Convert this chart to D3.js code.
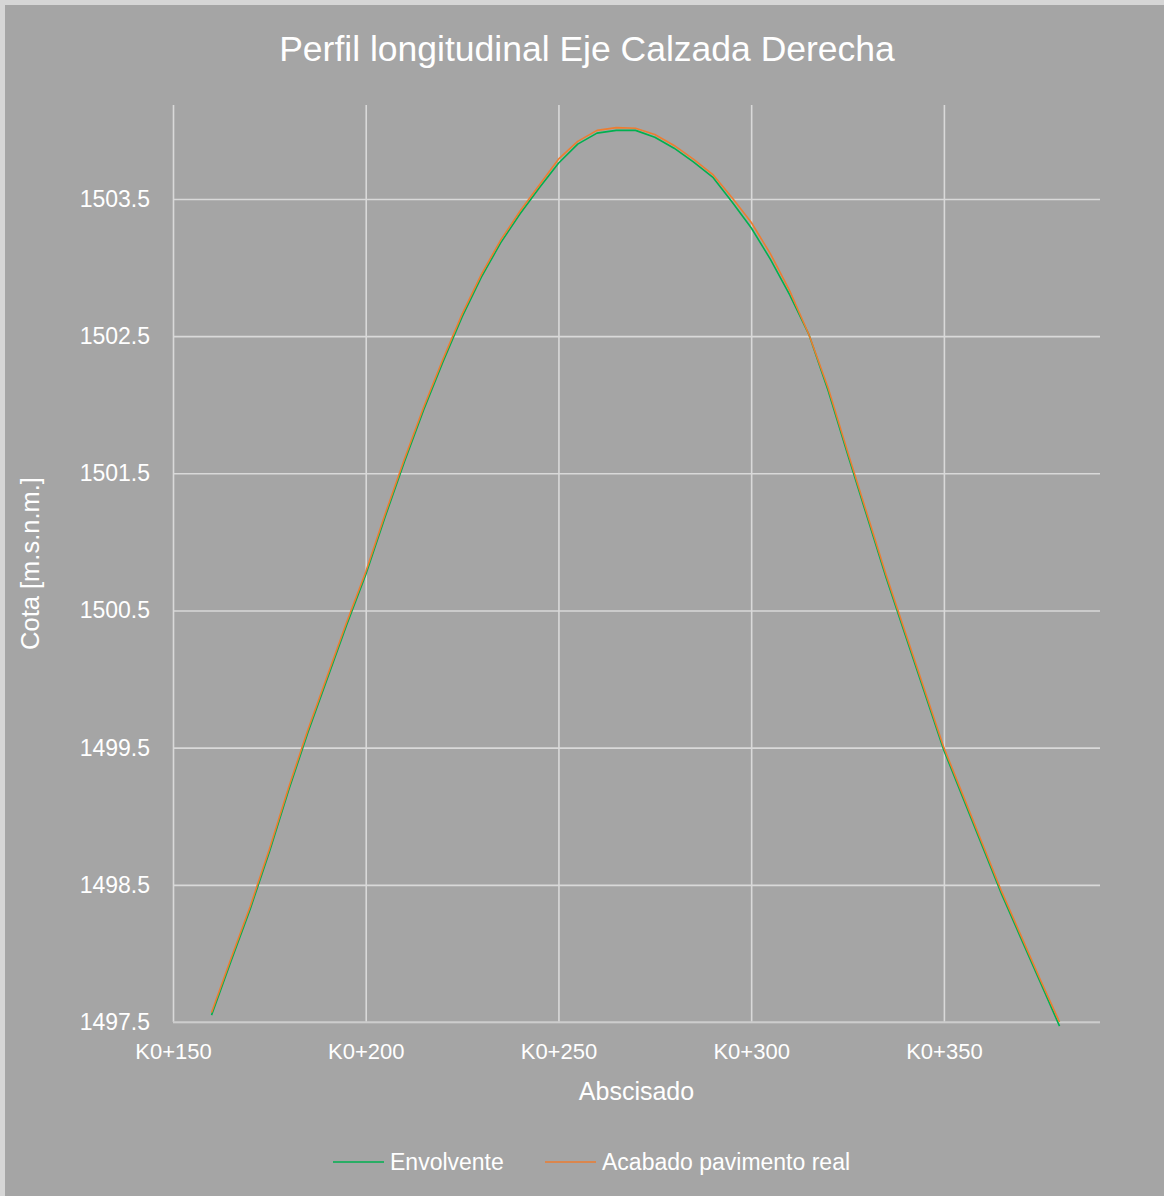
<!DOCTYPE html>
<html>
<head>
<meta charset="utf-8">
<script src="https://cdn.jsdelivr.net/npm/d3@7"></script>
<style>
  html, body { margin: 0; padding: 0; background: #d6d6d6; }
  svg { display: block; }
  text { fill: #ffffff; font-family: "Liberation Sans", Arial, sans-serif; }
</style>
</head>
<body>
<svg id="chart" width="1164" height="1196"></svg>
<script>
// Stations along the right carriageway axis (metres from K0+000)
const stations = [160, 165, 170, 175, 180, 185, 190, 195, 200, 205, 210, 215, 220, 225, 230,
  235, 240, 245, 250, 255, 260, 265, 270, 275, 280, 285, 290, 295, 300, 305, 310, 315, 320,
  325, 330, 335, 340, 345, 350, 355, 360, 365, 370, 375, 380];

// Envelope design grade (m a.s.l.)
const envolvente = [1497.55, 1497.94, 1498.32, 1498.74, 1499.19, 1499.61, 1500.00, 1500.39,
  1500.76, 1501.18, 1501.58, 1501.96, 1502.31, 1502.64, 1502.93, 1503.18, 1503.39, 1503.58,
  1503.76, 1503.90, 1503.98, 1504.00, 1504.00, 1503.95, 1503.87, 1503.77, 1503.66, 1503.48,
  1503.29, 1503.06, 1502.80, 1502.51, 1502.10, 1501.64, 1501.19, 1500.74, 1500.32, 1499.90,
  1499.48, 1499.13, 1498.78, 1498.43, 1498.11, 1497.79, 1497.47];

// As-built pavement finish (m a.s.l.)
const acabado = [1497.57, 1497.96, 1498.34, 1498.76, 1499.21, 1499.63, 1500.02, 1500.41,
  1500.78, 1501.20, 1501.60, 1501.98, 1502.33, 1502.66, 1502.95, 1503.20, 1503.41, 1503.60,
  1503.79, 1503.92, 1504.00, 1504.02, 1504.015, 1503.97, 1503.89, 1503.79, 1503.68, 1503.51,
  1503.33, 1503.10, 1502.83, 1502.51, 1502.12, 1501.66, 1501.21, 1500.76, 1500.34, 1499.92,
  1499.50, 1499.15, 1498.80, 1498.45, 1498.13, 1497.81, 1497.50];

// Axis ticks
const xTicks = [150, 200, 250, 300, 350];
const xTickLabels = ["K0+150", "K0+200", "K0+250", "K0+300", "K0+350"];
const yTicks = [1497.5, 1498.5, 1499.5, 1500.5, 1501.5, 1502.5, 1503.5];

const seriesNames = ["Envolvente", "Acabado pavimento real"];
const seriesColors = ["#00b050", "#ed7d31"];

const W = 1164, H = 1196;
const plot = { left: 173, right: 1100, top: 105, bottom: 1022 };

const svg = d3.select("#chart");

// chart area
svg.append("rect")
  .attr("x", 5).attr("y", 5)
  .attr("width", W).attr("height", H)
  .attr("fill", "#a5a5a5");

const x = d3.scaleLinear().domain([150, 390.5]).range([plot.left, plot.right]);
const y = d3.scaleLinear().domain([1497.5, 1504.185]).range([plot.bottom, plot.top]);

// horizontal gridlines + y labels
const yAxis = d3.axisLeft(y)
  .tickValues(yTicks)
  .tickFormat(d3.format(".1f"))
  .tickSizeInner(-(plot.right - plot.left))
  .tickSizeOuter(0)
  .tickPadding(23);

const gy = svg.append("g")
  .attr("transform", `translate(${plot.left},0)`)
  .call(yAxis);
gy.select(".domain").remove();
gy.selectAll(".tick line").attr("stroke", "#d9d9d9").attr("stroke-width", 1.6);
gy.selectAll(".tick text")
  .attr("fill", "#ffffff")
  .style("font-size", "23px")
  .style("font-family", "'Liberation Sans', Arial, sans-serif");

// vertical gridlines + x labels
const xAxis = d3.axisBottom(x)
  .tickValues(xTicks)
  .tickFormat((d, i) => xTickLabels[i])
  .tickSizeInner(-(plot.bottom - plot.top))
  .tickSizeOuter(0)
  .tickPadding(21);

const gx = svg.append("g")
  .attr("transform", `translate(0,${plot.bottom})`)
  .call(xAxis);
gx.select(".domain").remove();
gx.selectAll(".tick line").attr("stroke", "#d9d9d9").attr("stroke-width", 1.6);
gx.selectAll(".tick text")
  .attr("fill", "#ffffff")
  .style("font-size", "22px")
  .style("font-family", "'Liberation Sans', Arial, sans-serif");

// bottom axis line
svg.append("line")
  .attr("x1", plot.left).attr("x2", plot.right)
  .attr("y1", y(1497.5)).attr("y2", y(1497.5))
  .attr("stroke", "#c8c8c8").attr("stroke-width", 1.6);

// profile lines
const line = d3.line()
  .x(d => x(d[0]))
  .y(d => y(d[1]));

const series = [envolvente, acabado];
series.forEach((vals, i) => {
  svg.append("path")
    .datum(stations.map((s, j) => [s, vals[j]]))
    .attr("fill", "none")
    .attr("stroke", seriesColors[i])
    .attr("stroke-width", 1.6)
    .attr("stroke-linejoin", "round")
    .attr("d", line);
});

// title
svg.append("text")
  .attr("x", 587).attr("y", 61)
  .attr("text-anchor", "middle")
  .style("font-size", "35.5px")
  .text("Perfil longitudinal Eje Calzada Derecha");

// axis titles
svg.append("text")
  .attr("x", (plot.left + plot.right) / 2).attr("y", 1100)
  .attr("text-anchor", "middle")
  .style("font-size", "25px")
  .text("Abscisado");

svg.append("text")
  .attr("transform", `translate(39,${(plot.top + plot.bottom) / 2}) rotate(-90)`)
  .attr("text-anchor", "middle")
  .style("font-size", "25.5px")
  .text("Cota [m.s.n.m.]");

// legend
const legendItems = [{ x: 333 }, { x: 545 }];
legendItems.forEach((it, i) => {
  const g = svg.append("g").attr("transform", `translate(${it.x},1162)`);
  g.append("line")
    .attr("x1", 0).attr("x2", 51)
    .attr("y1", 0).attr("y2", 0)
    .attr("stroke", seriesColors[i]).attr("stroke-width", 1.6);
  g.append("text")
    .attr("x", 57).attr("y", 8)
    .style("font-size", "23px")
    .text(seriesNames[i]);
});
</script>
</body>
</html>
